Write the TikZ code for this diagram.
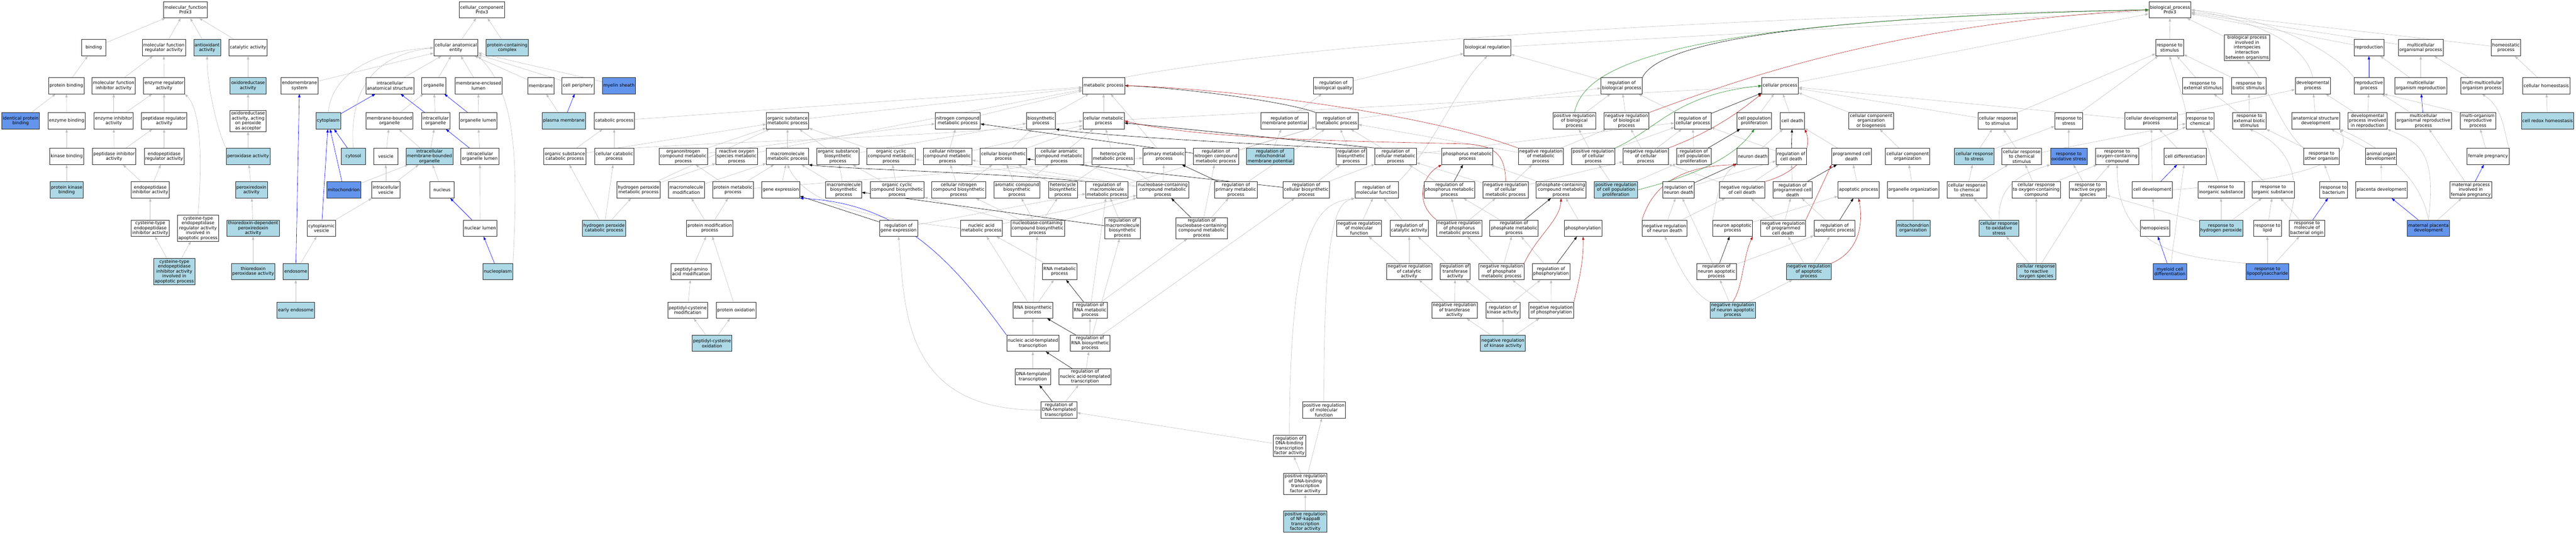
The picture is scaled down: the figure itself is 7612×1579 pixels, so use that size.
\documentclass[tikz,border=0pt]{standalone}
\usepackage{fontspec}
\setmainfont{DejaVu Sans}
\usepackage{tikz}
\usetikzlibrary{arrows.meta}
\definecolor{hitblue}{HTML}{ADD8E6}
\definecolor{keyblue}{HTML}{6495ED}
\definecolor{edgegray}{HTML}{C0C0C0}
\definecolor{negred}{HTML}{B22222}
\definecolor{posgreen}{HTML}{228B22}
\pgfdeclarelayer{edges}
\pgfsetlayers{edges,main}

\begin{document}
\begin{tikzpicture}[x=1pt,y=-1pt,
	term/.style={draw=black!85,line width=1.1pt,fill=white,align=center,font=\fontsize{13}{14.5}\selectfont,inner xsep=3pt,inner ysep=3pt,minimum width=72pt,minimum height=48pt},
	hit/.style={term,fill=hitblue},
	key/.style={term,fill=keyblue},
	isa/.style={draw=edgegray,line width=0.9pt,-{Triangle[length=10pt,width=7pt]}},
	partof/.style={isa,draw=blue},
	reg/.style={isa,draw=black},
	negreg/.style={isa,draw=negred},
	posreg/.style={isa,draw=posgreen}]
	\useasboundingbox (0,0) rectangle (7612,1579);

	\node[term] (mf) at (548,29) {molecular\_function\\Prdx3};
	\node[term] (cc) at (1424,29) {cellular\_component\\Prdx3};
	\node[term] (bp) at (6412,29) {biological\_process\\Prdx3};

	\node[term] (binding) at (277,141) {binding};
	\node[term] (mfreg) at (484,141) {molecular function\\regulator activity};
	\node[hit] (antiox) at (612,141) {antioxidant\\activity};
	\node[term] (catal) at (733,141) {catalytic activity};
	\node[term] (cae) at (1347,141) {cellular anatomical\\entity};
	\node[hit] (pcc) at (1499,141) {protein-containing\\complex};
	\node[term] (breg) at (4395,141) {biological regulation};
	\node[term] (rstim) at (6411,141) {response to\\stimulus};
	\node[term] (bpinter) at (6640,141) {biological process\\involved in\\interspecies\\interaction\\between organisms};
	\node[term] (repro) at (7000,141) {reproduction};
	\node[term] (mop) at (7153,141) {multicellular\\organismal process};
	\node[term] (homeo) at (7405,141) {homeostatic\\process};

	\node[term] (protbind) at (196,253) {protein binding};
	\node[term] (mfinh) at (336,253) {molecular function\\inhibitor activity};
	\node[term] (enzreg) at (485,253) {enzyme regulator\\activity};
	\node[hit] (oxred) at (733,253) {oxidoreductase\\activity};
	\node[term] (endomem) at (885,253) {endomembrane\\system};
	\node[term] (intranat) at (1152,253) {intracellular\\anatomical structure};
	\node[term] (organelle) at (1282,253) {organelle};
	\node[term] (mel) at (1414,253) {membrane-enclosed\\lumen};
	\node[term] (membrane) at (1598,253) {membrane};
	\node[term] (cellper) at (1708,253) {cell periphery};
	\node[key] (myelin) at (1829,253) {myelin sheath};
	\node[term] (mp) at (3261,253) {metabolic process};
	\node[term] (rbq) at (3940,253) {regulation of\\biological quality};
	\node[term] (rbp) at (4792,253) {regulation of\\biological process};
	\node[term] (cellproc) at (5260,253) {cellular process};
	\node[term] (rext) at (6509,253) {response to\\external stimulus};
	\node[term] (rbiot) at (6645,253) {response to\\biotic stimulus};
	\node[term] (devp) at (6834,253) {developmental\\process};
	\node[term] (reprop) at (7000,253) {reproductive\\process};
	\node[term] (mor) at (7153,253) {multicellular\\organism reproduction};
	\node[term] (mmop) at (7334,253) {multi-multicellular\\organism process};
	\node[term] (cellhomeo) at (7524,253) {cellular homeostasis};

	\node[key] (identprot) at (61,357) {identical protein\\binding};
	\node[term] (enzbind) at (197,357) {enzyme binding};
	\node[term] (enzinh) at (336,357) {enzyme inhibitor\\activity};
	\node[term] (peptreg) at (485,357) {peptidase regulator\\activity};
	\node[term] (oxperox) at (733,357) {oxidoreductase\\activity, acting\\on peroxide\\as acceptor};
	\node[hit] (cytoplasm) at (970,357) {cytoplasm};
	\node[term] (mbo) at (1151,357) {membrane-bounded\\organelle};
	\node[term] (intorg) at (1287,357) {intracellular\\organelle};
	\node[term] (orglumen) at (1413,357) {organelle lumen};
	\node[hit] (plasmem) at (1666,357) {plasma membrane};
	\node[term] (catab) at (1815,357) {catabolic process};
	\node[term] (osmp) at (2327,357) {organic substance\\metabolic process};
	\node[term] (ncmp) at (2830,357) {nitrogen compound\\metabolic process};
	\node[term] (biosyn) at (3076,357) {biosynthetic\\process};
	\node[term] (cmp) at (3261,357) {cellular metabolic\\process};
	\node[term] (rmembp) at (3796,357) {regulation of\\membrane potential};
	\node[term] (rmetp) at (3951,357) {regulation of\\metabolic process};
	\node[term] (prbp) at (4652,357) {positive regulation\\of biological\\process};
	\node[term] (nrbp) at (4806,357) {negative regulation\\of biological\\process};
	\node[term] (rcp) at (5002,357) {regulation of\\cellular process};
	\node[term] (cpp) at (5184,357) {cell population\\proliferation};
	\node[term] (celldeath) at (5296,357) {cell death};
	\node[term] (ccob) at (5529,357) {cellular component\\organization\\or biogenesis};
	\node[term] (crs) at (5903,357) {cellular response\\to stimulus};
	\node[term] (rts) at (6113,357) {response to\\stress};
	\node[term] (cdp) at (6357,357) {cellular developmental\\process};
	\node[term] (rchem) at (6501,357) {response to\\chemical};
	\node[term] (rextb) at (6647,357) {response to\\external biotic\\stimulus};
	\node[term] (asd) at (6843,357) {anatomical structure\\development};
	\node[term] (dpir) at (6996,357) {developmental\\process involved\\in reproduction};
	\node[term] (morp) at (7161,357) {multicellular\\organismal reproductive\\process};
	\node[term] (morepro) at (7322,357) {multi-organism\\reproductive\\process};
	\node[hit] (crh) at (7528,357) {cell redox homeostasis};

	\node[term] (kinbind) at (197,462) {kinase binding};
	\node[term] (peptinh) at (337,462) {peptidase inhibitor\\activity};
	\node[term] (endopreg) at (485,462) {endopeptidase\\regulator activity};
	\node[hit] (peroxid) at (733,462) {peroxidase activity};
	\node[hit] (cytosol) at (1044,462) {cytosol};
	\node[term] (vesicle) at (1140,462) {vesicle};
	\node[hit] (imbo) at (1269,462) {intracellular\\membrane-bounded\\organelle};
	\node[term] (iol) at (1418,462) {intracellular\\organelle lumen};
	\node[term] (oscp) at (1669,462) {organic substance\\catabolic process};
	\node[term] (ccp) at (1815,462) {cellular catabolic\\process};
	\node[term] (oncmp) at (2019,462) {organonitrogen\\compound metabolic\\process};
	\node[term] (rosmp) at (2177,462) {reactive oxygen\\species metabolic\\process};
	\node[term] (macmp) at (2327,462) {macromolecule\\metabolic process};
	\node[term] (osbp) at (2476,462) {organic substance\\biosynthetic\\process};
	\node[term] (occmp) at (2633,462) {organic cyclic\\compound metabolic\\process};
	\node[term] (cncmp) at (2800,462) {cellular nitrogen\\compound metabolic\\process};
	\node[term] (cbp) at (2965,462) {cellular biosynthetic\\process};
	\node[term] (cacmp) at (3130,462) {cellular aromatic\\compound metabolic\\process};
	\node[term] (hmp) at (3289,462) {heterocycle\\metabolic process};
	\node[term] (pmp) at (3440,462) {primary metabolic\\process};
	\node[term] (rncmp) at (3593,462) {regulation of\\nitrogen compound\\metabolic process};
	\node[hit] (rmmp) at (3753,462) {regulation of\\mitochondrial\\membrane potential};
	\node[term] (rbsp) at (3993,462) {regulation of\\biosynthetic\\process};
	\node[term] (rcmp) at (4124,462) {regulation of\\cellular metabolic\\process};
	\node[term] (phmp) at (4336,462) {phosphorus metabolic\\process};
	\node[term] (nrmp) at (4553,462) {negative regulation\\of metabolic\\process};
	\node[term] (prcp) at (4708,462) {positive regulation\\of cellular\\process};
	\node[term] (nrcp) at (4863,462) {negative regulation\\of cellular\\process};
	\node[term] (rcpp) at (5005,462) {regulation of\\cell population\\proliferation};
	\node[term] (neurondeath) at (5179,462) {neuron death};
	\node[term] (rcd) at (5293,462) {regulation of\\cell death};
	\node[term] (pcd) at (5471,462) {programmed cell\\death};
	\node[term] (cco) at (5637,462) {cellular component\\organization};
	\node[hit] (crcs) at (5834,462) {cellular response\\to stress};
	\node[term] (crchem) at (5974,462) {cellular response\\to chemical\\stimulus};
	\node[key] (ros) at (6113,462) {response to\\oxidative stress};
	\node[term] (roc) at (6256,462) {response to\\oxygen-containing\\compound};
	\node[term] (celldiff) at (6457,462) {cell differentiation};
	\node[term] (rtoo) at (6860,462) {response to\\other organism};
	\node[term] (aod) at (7036,462) {animal organ\\development};
	\node[term] (fp) at (7352,462) {female pregnancy};

	\node[hit] (protkin) at (197,561) {protein kinase\\binding};
	\node[term] (endopinh) at (444,561) {endopeptidase\\inhibitor activity};
	\node[hit] (prxact) at (743,561) {peroxiredoxin\\activity};
	\node[key] (mito) at (1016,561) {mitochondrion};
	\node[term] (intraves) at (1140,561) {intracellular\\vesicle};
	\node[term] (nucleus) at (1306,561) {nucleus};
	\node[term] (h2o2mp) at (1887,561) {hydrogen peroxide\\metabolic process};
	\node[term] (macmod) at (2028,561) {macromolecule\\modification};
	\node[term] (protmp) at (2166,561) {protein metabolic\\process};
	\node[term] (geneexp) at (2307,561) {gene expression};
	\node[term] (macbp) at (2493,561) {macromolecule\\biosynthetic\\process};
	\node[term] (occbp) at (2651,561) {organic cyclic\\compound biosynthetic\\process};
	\node[term] (cncbp) at (2833,561) {cellular nitrogen\\compound biosynthetic\\process};
	\node[term] (acbp) at (3005,561) {aromatic compound\\biosynthetic\\process};
	\node[term] (hbp) at (3141,561) {heterocycle\\biosynthetic\\process};
	\node[term] (rmacmp) at (3271,561) {regulation of\\macromolecule\\metabolic process};
	\node[term] (nbcmp) at (3436,561) {nucleobase-containing\\compound metabolic\\process};
	\node[term] (rpmp) at (3652,561) {regulation of\\primary metabolic\\process};
	\node[term] (rcbp) at (3860,561) {regulation of\\cellular biosynthetic\\process};
	\node[term] (rmf) at (4068,561) {regulation of\\molecular function};
	\node[term] (rphmp) at (4283,561) {regulation of\\phosphorus metabolic\\process};
	\node[term] (nrcmp) at (4449,561) {negative regulation\\of cellular\\metabolic process};
	\node[term] (pcmp) at (4613,561) {phosphate-containing\\compound metabolic\\process};
	\node[hit] (prcpp) at (4775,561) {positive regulation\\of cell population\\proliferation};
	\node[term] (rnd) at (4960,561) {regulation of\\neuron death};
	\node[term] (nrcd) at (5148,561) {negative regulation\\of cell death};
	\node[term] (rpcd) at (5297,561) {regulation of\\programmed cell\\death};
	\node[term] (apop) at (5492,561) {apoptotic process};
	\node[term] (oo) at (5653,561) {organelle organization};
	\node[term] (crcst) at (5812,561) {cellular response\\to chemical\\stress};
	\node[term] (crocc) at (6017,561) {cellular response\\to oxygen-containing\\compound};
	\node[term] (rros) at (6169,561) {response to\\reactive oxygen\\species};
	\node[term] (celldev) at (6360,561) {cell development};
	\node[term] (rinorg) at (6563,561) {response to\\inorganic substance};
	\node[term] (rorg) at (6717,561) {response to\\organic substance};
	\node[term] (rbact) at (6896,561) {response to\\bacterium};
	\node[term] (placdev) at (7037,561) {placenta development};
	\node[term] (mpfp) at (7301,561) {maternal process\\involved in\\female pregnancy};

	\node[term] (cysinh) at (444,674) {cysteine-type\\endopeptidase\\inhibitor activity};
	\node[term] (cysregapo) at (585,674) {cysteine-type\\endopeptidase\\regulator activity\\involved in\\apoptotic process};
	\node[hit] (trxprx) at (748,674) {thioredoxin-dependent\\peroxiredoxin\\activity};
	\node[term] (cytoves) at (950,674) {cytoplasmic\\vesicle};
	\node[term] (nuclumen) at (1419,674) {nuclear lumen};
	\node[hit] (h2o2cp) at (1785,674) {hydrogen peroxide\\catabolic process};
	\node[term] (protmodp) at (2097,674) {protein modification\\process};
	\node[term] (rge) at (2655,674) {regulation of\\gene expression};
	\node[term] (namp) at (2900,674) {nucleic acid\\metabolic process};
	\node[term] (nbcbp) at (3066,674) {nucleobase-containing\\compound biosynthetic\\process};
	\node[term] (rmacbp) at (3317,674) {regulation of\\macromolecule\\biosynthetic\\process};
	\node[term] (rnbcmp) at (3551,674) {regulation of\\nucleobase-containing\\compound metabolic\\process};
	\node[term] (nrmf) at (4016,674) {negative regulation\\of molecular\\function};
	\node[term] (rca) at (4164,674) {regulation of\\catalytic activity};
	\node[term] (nrphmp) at (4312,674) {negative regulation\\of phosphorus\\metabolic process};
	\node[term] (rphosmp) at (4474,674) {regulation of\\phosphate metabolic\\process};
	\node[term] (phos) at (4678,674) {phosphorylation};
	\node[term] (nrnd) at (4919,674) {negative regulation\\of neuron death};
	\node[term] (nap) at (5120,674) {neuron apoptotic\\process};
	\node[term] (nrpcd) at (5269,674) {negative regulation\\of programmed\\cell death};
	\node[term] (rap) at (5421,674) {regulation of\\apoptotic process};
	\node[hit] (mitoorg) at (5653,674) {mitochondrion\\organization};
	\node[hit] (crox) at (5907,674) {cellular response\\to oxidative\\stress};
	\node[term] (hemo) at (6368,674) {hemopoiesis};
	\node[hit] (rh2o2) at (6563,674) {response to\\hydrogen peroxide};
	\node[term] (rlipid) at (6700,674) {response to\\lipid};
	\node[term] (rmbo) at (6817,674) {response to\\molecule of\\bacterial origin};
	\node[key] (mpd) at (7176,674) {maternal placenta\\development};

	\node[hit] (cysinhapo) at (515,802) {cysteine-type\\endopeptidase\\inhibitor activity\\involved in\\apoptotic process};
	\node[hit] (trxperox) at (748,802) {thioredoxin\\peroxidase activity};
	\node[hit] (endosome) at (874,802) {endosome};
	\node[hit] (nucleoplasm) at (1471,802) {nucleoplasm};
	\node[term] (pepaa) at (2042,802) {peptidyl-amino\\acid modification};
	\node[term] (rnamp) at (3131,802) {RNA metabolic\\process};
	\node[term] (nrca) at (4164,802) {negative regulation\\of catalytic\\activity};
	\node[term] (rta) at (4300,802) {regulation of\\transferase\\activity};
	\node[term] (nrphosmp) at (4437,802) {negative regulation\\of phosphate\\metabolic process};
	\node[term] (rphosph) at (4583,802) {regulation of\\phosphorylation};
	\node[term] (rnap) at (5072,802) {regulation of\\neuron apoptotic\\process};
	\node[hit] (nrap) at (5345,802) {negative regulation\\of apoptotic\\process};
	\node[hit] (crros) at (6017,802) {cellular response\\to reactive\\oxygen species};
	\node[key] (mcd) at (6412,802) {myeloid cell\\differentiation};
	\node[key] (rlps) at (6700,802) {response to\\lipopolysaccharide};

	\node[hit] (earlyendo) at (874,916) {early endosome};
	\node[term] (pepcysmod) at (2032,916) {peptidyl-cysteine\\modification};
	\node[term] (protox) at (2175,916) {protein oxidation};
	\node[term] (rnabp) at (3052,916) {RNA biosynthetic\\process};
	\node[term] (rrnamp) at (3221,916) {regulation of\\RNA metabolic\\process};
	\node[term] (nrta) at (4298,916) {negative regulation\\of transferase\\activity};
	\node[term] (rka) at (4441,916) {regulation of\\kinase activity};
	\node[term] (nrphosph) at (4584,916) {negative regulation\\of phosphorylation};
	\node[hit] (nrnap) at (5120,916) {negative regulation\\of neuron apoptotic\\process};

	\node[hit] (pepcysox) at (2104,1014) {peptidyl-cysteine\\oxidation};
	\node[term] (natt) at (3052,1014) {nucleic acid-templated\\transcription};
	\node[term] (rrnabp) at (3221,1014) {regulation of\\RNA biosynthetic\\process};
	\node[hit] (nrka) at (4441,1014) {negative regulation\\of kinase activity};
	\node[term] (dtt) at (3052,1113) {DNA-templated\\transcription};
	\node[term] (rnatt) at (3206,1113) {regulation of\\nucleic acid-templated\\transcription};
	\node[term] (rdtt) at (3129,1211) {regulation of\\DNA-templated\\transcription};
	\node[term] (pmf) at (3912,1211) {positive regulation\\of molecular\\function};
	\node[term] (rdbtfa) at (3810,1317) {regulation of\\DNA-binding\\transcription\\factor activity};
	\node[term] (prdbtfa) at (3857,1429) {positive regulation\\of DNA-binding\\transcription\\factor activity};
	\node[hit] (prnfkb) at (3857,1541) {positive regulation\\of NF-kappaB\\transcription\\factor activity};

	\begin{pgfonlayer}{edges}
	\foreach \c/\p in {binding/mf, mfreg/mf, antiox/mf, catal/mf, protbind/binding, mfinh/mfreg, enzreg/mfreg, oxred/catal, identprot/protbind, enzbind/protbind, enzinh/mfinh, enzinh/enzreg, peptreg/enzreg, oxperox/oxred, kinbind/enzbind, peptinh/enzinh, peptinh/peptreg, endopreg/peptreg, peroxid/oxperox, protkin/kinbind, endopinh/peptinh, endopinh/endopreg, prxact/peroxid, cysinh/endopinh, trxprx/prxact, cysinhapo/cysinh, cysinhapo/cysregapo, trxperox/trxprx,
		cae/cc, pcc/cc, organelle/cae, mel/cae, membrane/cae, cellper/cae, myelin/cae, endomem/cae, intranat/cae, mbo/organelle, intorg/organelle, orglumen/mel, vesicle/mbo, imbo/mbo, imbo/intorg, iol/orglumen, plasmem/membrane, intraves/vesicle, intraves/imbo, mito/imbo, nucleus/imbo, nuclumen/iol, cytoves/intraves, endosome/cytoves, earlyendo/endosome,
		breg/bp, cellproc/bp, rstim/bp, bpinter/bp, repro/bp, mop/bp, homeo/bp,
		catab/mp, osmp/mp, ncmp/mp, biosyn/mp, cmp/mp, pmp/mp, rosmp/mp, oscp/catab, oscp/osmp, ccp/catab, oncmp/osmp, oncmp/ncmp, macmp/osmp, osbp/osmp, osbp/biosyn, occmp/osmp, h2o2mp/rosmp, h2o2mp/osmp,
		macmod/macmp, protmp/oncmp, protmp/macmp, protmp/pmp, geneexp/macmp, macbp/macmp, macbp/osbp, h2o2cp/h2o2mp, h2o2cp/oscp, h2o2cp/ccp, protmodp/macmod, protmodp/protmp, pepaa/protmodp, protox/protmodp, pepcysmod/pepaa, pepcysox/pepcysmod, pepcysox/protox,
		cncmp/ncmp, cncmp/cmp, cbp/biosyn, cbp/cmp, cacmp/cmp, hmp/cmp, occbp/occmp, occbp/osbp, cncbp/cncmp, cncbp/cbp, acbp/cacmp, acbp/cbp, hbp/hmp, hbp/cbp, nbcmp/hmp, nbcmp/pmp, nbcmp/cacmp, nbcmp/occmp, nbcmp/cncmp, namp/nbcmp, nbcbp/nbcmp, nbcbp/acbp, nbcbp/hbp, nbcbp/cncbp, nbcbp/occbp, rnamp/namp, rnabp/rnamp, rnabp/nbcbp, rnabp/namp, natt/rnabp, dtt/natt, cmp/cellproc,
		rmembp/rbq, rmmp/rmembp, rncmp/rmetp, rmetp/rbp, rbq/breg, rbp/breg, prbp/rbp, nrbp/rbp, rcp/rbp, rbsp/rmetp, rcmp/rmetp, rcmp/rcp, phmp/cmp, nrmp/rmetp, nrmp/nrbp, prcp/prbp, prcp/rcp, nrcp/nrbp, nrcp/rcp, rcpp/rcp, rcbp/rbsp, rcbp/rcmp, rmacmp/rmetp, rpmp/rmetp, rphmp/rcmp, nrcmp/rcmp, nrcmp/nrmp, nrcmp/nrcp, pcmp/phmp, prcpp/prcp, prcpp/rcpp, rnd/rcd,
		rge/rmacmp, rmacbp/rmacmp, rnbcmp/rncmp, rnbcmp/rpmp, rrnamp/rnbcmp, rrnamp/rmacmp, rrnabp/rrnamp, rrnabp/rmacbp, rrnabp/rcbp, rnatt/rrnabp, rdtt/rnatt, rdbtfa/rdtt, prdbtfa/rdbtfa, prdbtfa/pmf, prnfkb/prdbtfa,
		nrmf/rmf, rca/rmf, nrphmp/rphmp, nrphmp/nrcmp, rphosmp/rphmp, phos/pcmp, nrnd/rnd, nrnd/nrcd, nrca/nrmf, nrca/rca, rta/rca, nrphosmp/nrphmp, nrphosmp/rphosmp, rphosph/rphosmp, nrta/nrca, nrta/rta, rka/rta, rka/rphosph, nrphosph/nrphosmp, nrphosph/rphosph, nrka/nrta, nrka/rka, nrka/nrphosph, rnap/rnd, rnap/rap, nrnap/rnap, nrnap/nrap,
		cpp/cellproc, celldeath/cellproc, ccob/cellproc, crs/cellproc, cdp/cellproc, crs/rstim, rts/rstim, neurondeath/celldeath, pcd/celldeath, rcd/rcp, cco/ccob, crcs/crs, crcs/rts, crchem/crs, crchem/rchem, ros/rts, roc/rchem, nrcd/rcd, nrcd/nrcp, rpcd/rcd, apop/pcd, oo/cco, crcst/crcs, crcst/crchem, crocc/crchem, crocc/roc, rros/ros, rros/roc, nap/apop, nrpcd/nrcd, nrpcd/rpcd, rap/rpcd, mitoorg/oo, crox/crcst, nrap/rap, nrap/nrpcd, crros/rros, crros/crocc, crros/crox,
		celldiff/cdp, celldev/cdp, hemo/celldev, mcd/celldiff, cdp/devp, rext/rstim, rbiot/rstim, mor/repro, mor/mop, mmop/mop, cellhomeo/homeo, rextb/rext, rextb/rbiot, asd/devp, dpir/devp, dpir/reprop, morp/reprop, crh/cellhomeo, rtoo/rextb, aod/asd, fp/morepro, rinorg/rchem, rorg/rchem, rbact/rtoo, placdev/aod, mpfp/morp, rh2o2/rinorg, rh2o2/rorg, rh2o2/rros, rlipid/rorg, rmbo/rorg, mpd/mpfp, rlps/rlipid, rlps/rmbo}
		\draw[isa] (\c) -- (\p);
	\foreach \c/\p in {cytoplasm/intranat, intorg/intranat, cytosol/cytoplasm, mito/cytoplasm, cytoves/cytoplasm, endosome/endomem, orglumen/organelle, iol/intorg, plasmem/cellper, nuclumen/nucleus, nucleoplasm/nuclumen, reprop/repro, morp/mor, mpfp/fp, mpd/placdev, rmbo/rbact, celldev/celldiff, mcd/hemo}
		\draw[partof] (\c) -- (\p);
	\foreach \c/\p in {rncmp/ncmp, rpmp/pmp, rnbcmp/nbcmp, rge/geneexp, rrnamp/rnamp, rrnabp/rnabp, rnatt/natt, rdtt/dtt, rcbp/cbp, rphmp/phmp, rphosmp/pcmp, rphosph/phos, rcpp/cpp, rnd/neurondeath, rcd/celldeath, rpcd/pcd, rap/apop, rnap/nap, rcp/cellproc, rmacbp/macbp}
		\draw[reg] (\c) -- (\p);

	\draw[isa] (peroxid.north west) .. controls (640,380) and (612,250) .. (antiox.south);
	\draw[isa] (cysregapo.north) .. controls (600,450) and (590,320) .. (enzreg.south east);
	\draw[isa] (nucleoplasm.north east) .. controls (1530,500) and (1530,280) .. (cae.south east);
	\draw[isa] (cytoplasm.north) .. controls (980,220) and (1100,150) .. (cae.west);
	\draw[isa] (cytosol.north) .. controls (1030,250) and (1120,160) .. (cae.west);
	\draw[isa] (ccp.north east) .. controls (2100,420) and (2900,400) .. (cmp.west);
	\draw[isa] (namp.west) .. controls (2540,640) and (2380,600) .. (macmp.south);
	\draw[isa] (rdtt.west) .. controls (2660,1215) and (2675,900) .. (rge.south);
	\draw[isa] (rdbtfa.north) .. controls (3812,650) and (3900,600) .. (rmf.south west);
	\draw[isa] (pmf.north) .. controls (3912,650) and (3950,600) .. (rmf.south west);
	\draw[isa] (rmf.north east) .. controls (4240,430) and (4300,260) .. (breg.south);
	\draw[isa] (mp.north east) .. controls (4000,100) and (5500,40) .. (bp.west);
	\draw[isa] (devp.north) .. controls (6810,120) and (6650,60) .. (bp.east);
	\draw[isa] (reprop.north west) .. controls (6900,150) and (6700,50) .. (bp.east);
	\draw[isa] (rtoo.north west) .. controls (6740,380) and (6700,250) .. (bpinter.south);
	\draw[isa] (celldev.east) .. controls (6800,530) and (6960,480) .. (asd.south east);
	\draw[isa] (mpd.north) .. controls (7150,500) and (7000,420) .. (asd.south east);
	\draw[isa] (mpd.north) .. controls (7200,450) and (7150,420) .. (dpir.south east);
	\draw[isa] (morepro.north west) -- (reprop.south east);
	\draw[isa] (fp.north east) .. controls (7400,400) and (7400,320) .. (mmop.south);
	\draw[isa] (rmbo.north west) .. controls (6805,520) and (6760,430) .. (rextb.south);
	\draw[isa] (rchem.north west) .. controls (6450,280) and (6420,200) .. (rstim.south);
	\draw[isa] (rlps.north west) .. controls (6450,760) and (6255,740) .. (roc.south);
	\draw[isa] (crox.north) .. controls (5905,560) and (5950,520) .. (ros.south west);
	\draw[isa] (nap.north west) .. controls (5070,600) and (5080,520) .. (neurondeath.south west);
	\draw[isa] (nrnap.north west) .. controls (4990,860) and (4950,760) .. (nrnd.south);
	\draw[partof] (natt.north west) .. controls (2800,750) and (2650,600) .. (geneexp.south east);

	\draw[reg] (rbp.north east) .. controls (4900,130) and (5300,50) .. (bp.west);
	\draw[reg] (rmetp.north west) .. controls (3800,300) and (3500,260) .. (mp.east);
	\draw[reg] (rcmp.north west) -- (cmp);
	\draw[reg] (rbsp.north west) .. controls (3600,420) and (3250,400) .. (biosyn.south east);
	\draw[reg] (rmacmp.north west) .. controls (2950,510) and (2500,500) .. (macmp.south east);

	\draw[negreg] (nrbp.north east) .. controls (5150,230) and (5600,70) .. (bp.west);
	\draw[negreg] (nrmp.north west) .. controls (4200,330) and (3600,260) .. (mp.east);
	\draw[negreg] (nrcmp.north) .. controls (4449,440) and (4400,426) .. (4300,424) .. controls (3800,415) and (3500,400) .. (cmp.east);
	\draw[negreg] (nrcp.north east) .. controls (5080,380) and (5150,320) .. (cellproc.south west);
	\draw[negreg] (nrphmp.north west) .. controls (4180,600) and (4200,520) .. (phmp.south west);
	\draw[negreg] (nrphosmp.north east) .. controls (4540,700) and (4610,650) .. (pcmp.south);
	\draw[negreg] (nrphosph.north east) .. controls (4660,850) and (4680,780) .. (phos.south);
	\draw[negreg] (nrnd.north west) .. controls (4880,560) and (4950,490) .. (neurondeath.south west);
	\draw[negreg] (nrcd.north east) .. controls (5345,500) and (5350,420) .. (celldeath.south east);
	\draw[negreg] (nrpcd.north east) -- (pcd.south west);
	\draw[negreg] (nrap.north east) .. controls (5500,740) and (5505,650) .. (apop.south);
	\draw[negreg] (nrnap.north) .. controls (5150,850) and (5150,760) .. (nap.south east);

	\draw[posreg] (prbp.north) .. controls (4680,220) and (4820,60) .. (bp.west);
	\draw[posreg] (prcp.north east) .. controls (4900,380) and (4950,280) .. (cellproc.west);
	\draw[posreg] (prcpp.east) .. controls (5000,520) and (5120,470) .. (cpp.south);
	\end{pgfonlayer}
\end{tikzpicture}
\end{document}
